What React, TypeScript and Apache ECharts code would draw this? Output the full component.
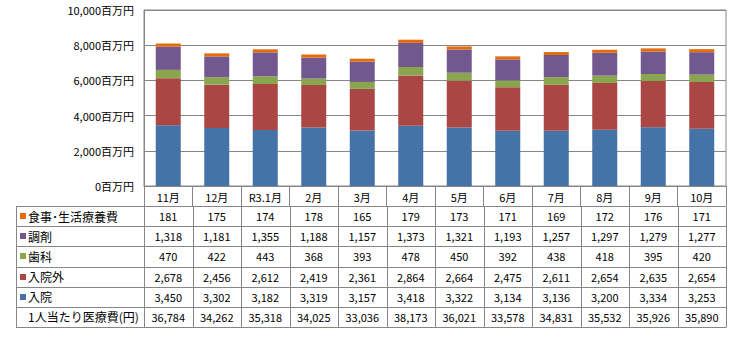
import React, { useEffect, useRef } from "react";
import * as echarts from "echarts";

const categories = ["11月", "12月", "R3.1月", "2月", "3月", "4月", "5月", "6月", "7月", "8月", "9月", "10月"];
const nyuin = [3450, 3302, 3182, 3319, 3157, 3418, 3322, 3134, 3136, 3200, 3334, 3253];
const nyuinGai = [2678, 2456, 2612, 2419, 2361, 2864, 2664, 2475, 2611, 2654, 2635, 2654];
const shika = [470, 422, 443, 368, 393, 478, 450, 392, 438, 418, 395, 420];
const chozai = [1318, 1181, 1355, 1188, 1157, 1373, 1321, 1193, 1257, 1297, 1279, 1277];
const shokuji = [181, 175, 174, 178, 165, 179, 173, 171, 169, 172, 176, 171];
const perCapita = [36784, 34262, 35318, 34025, 33036, 38173, 36021, 33578, 34831, 35532, 35926, 35890];

const seriesDefs = [
  { name: "入院", data: nyuin, color: "#4572A7" },
  { name: "入院外", data: nyuinGai, color: "#AA4643" },
  { name: "歯科", data: shika, color: "#89A54E" },
  { name: "調剤", data: chozai, color: "#71588F" },
  { name: "食事･生活療養費", data: shokuji, color: "#E46C0A" },
];

const tableRows = [
  { label: "食事･生活療養費", data: shokuji, color: "#E46C0A" },
  { label: "調剤", data: chozai, color: "#71588F" },
  { label: "歯科", data: shika, color: "#89A54E" },
  { label: "入院外", data: nyuinGai, color: "#AA4643" },
  { label: "入院", data: nyuin, color: "#4572A7" },
  { label: "1人当たり医療費(円)", data: perCapita, color: null as string | null },
];

const FONT = "'Noto Sans CJK JP', 'Noto Sans', sans-serif";
const LINE = "#868686";

const fmt = (v: number) => v.toLocaleString("en-US");

export default function App() {
  const ref = useRef<HTMLDivElement>(null);
  useEffect(() => {
    if (!ref.current) return;
    const chart = echarts.init(ref.current, null, { renderer: "svg" });
    const gridLeft = 144;
    const gridRight = 8;
    const gridTop = 10;
    const gridBottom = 155;
    chart.setOption({
      animation: false,
      grid: {
        left: gridLeft,
        right: gridRight,
        top: gridTop,
        bottom: gridBottom,
        show: true,
        borderColor: LINE,
        borderWidth: 1,
      },
      xAxis: {
        type: "category",
        data: categories,
        axisLine: { show: true, lineStyle: { color: LINE } },
        axisTick: { show: true, length: 20, lineStyle: { color: LINE } },
        axisLabel: { color: "#000", fontSize: 11, fontFamily: FONT, margin: 5, interval: 0 },
      },
      yAxis: {
        type: "value",
        min: 0,
        max: 10000,
        interval: 2000,
        axisLine: { show: true, lineStyle: { color: LINE } },
        axisTick: { show: false },
        splitLine: { lineStyle: { color: LINE } },
        axisLabel: {
          color: "#000",
          fontSize: 11,
          fontFamily: FONT,
          margin: 10,
          formatter: (v: number) => fmt(v) + "百万円",
        },
      },
      series: seriesDefs.map((s) => ({
        type: "bar",
        name: s.name,
        stack: "total",
        data: s.data,
        barWidth: 25,
        itemStyle: { color: s.color },
      })),
    });

    // Build data table beneath the chart from the arrays, positioned via the axis scale.
    const axisBottomY = chart.convertToPixel({ yAxisIndex: 0 }, 0) as number;
    const centers = categories.map((_, i) => chart.convertToPixel({ xAxisIndex: 0 }, i) as number);
    const step = centers.length > 1 ? centers[1] - centers[0] : 48;
    const left = centers[0] - step / 2;
    const right = centers[centers.length - 1] + step / 2;
    const tableLeft = 16;
    const headerH = 20;
    const rowH = 20.17;
    const rowsTop = axisBottomY + headerH;
    const tableBottom = rowsTop + rowH * tableRows.length;

    const elements: any[] = [];
    // horizontal lines
    for (let r = 0; r <= tableRows.length; r++) {
      const y = Math.round(rowsTop + r * rowH) + 0.5;
      elements.push({
        type: "line",
        shape: { x1: tableLeft, y1: y, x2: right, y2: y },
        style: { stroke: LINE, lineWidth: 1 },
        silent: true,
      });
    }
    // vertical lines
    elements.push({
      type: "line",
      shape: { x1: tableLeft + 0.5, y1: Math.round(rowsTop) + 0.5, x2: tableLeft + 0.5, y2: Math.round(tableBottom) + 0.5 },
      style: { stroke: LINE, lineWidth: 1 },
      silent: true,
    });
    for (let c = 0; c <= categories.length; c++) {
      const x = Math.round(left + c * step) + 0.5;
      elements.push({
        type: "line",
        shape: { x1: x, y1: Math.round(rowsTop) + 0.5, x2: x, y2: Math.round(tableBottom) + 0.5 },
        style: { stroke: LINE, lineWidth: 1 },
        silent: true,
      });
    }
    // rows
    tableRows.forEach((row, r) => {
      const cy = rowsTop + r * rowH + rowH / 2;
      if (row.color) {
        elements.push({
          type: "rect",
          shape: { x: 20, y: Math.round(cy - 3), width: 6, height: 6 },
          style: { fill: row.color },
          silent: true,
        });
      }
      elements.push({
        type: "text",
        x: 28,
        y: cy,
        style: {
          text: row.label,
          fill: "#000",
          font: `12px ${FONT}`,
          textAlign: "left",
          textVerticalAlign: "middle",
        },
        silent: true,
      });
      row.data.forEach((v, i) => {
        elements.push({
          type: "text",
          x: centers[i],
          y: cy,
          style: {
            text: fmt(v),
            fill: "#000",
            font: `11px ${FONT}`,
            textAlign: "center",
            textVerticalAlign: "middle",
          },
          silent: true,
        });
      });
    });
    chart.setOption({ graphic: { elements } });

    return () => chart.dispose();
  }, []);
  return (
    <div
      ref={ref}
      style={{ position: "fixed", left: 0, top: 0, width: 734, height: 341, background: "#fff" }}
    />
  );
}
